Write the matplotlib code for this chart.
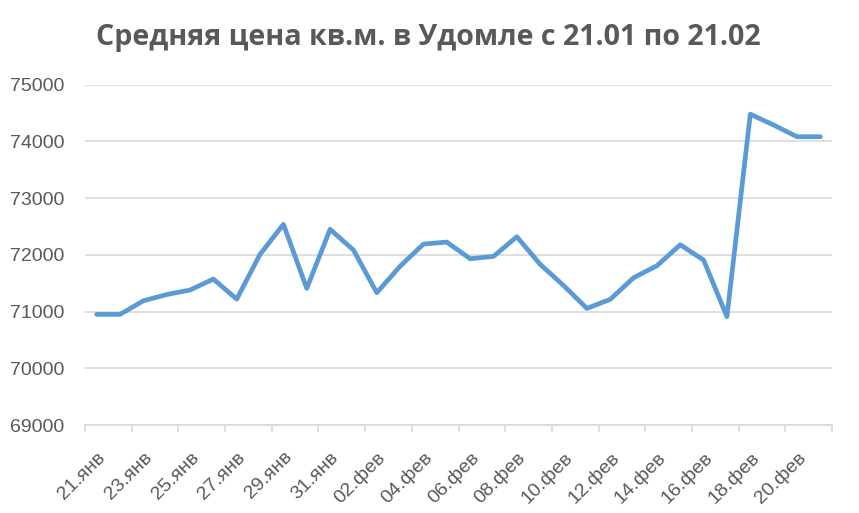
import matplotlib.pyplot as plt
import numpy as np

# average price per sq.m. in Udomlya, 21.01 - 21.02
days = ['21.янв', '22.янв', '23.янв', '24.янв', '25.янв', '26.янв', '27.янв', '28.янв',
        '29.янв', '30.янв', '31.янв', '01.фев', '02.фев', '03.фев', '04.фев', '05.фев',
        '06.фев', '07.фев', '08.фев', '09.фев', '10.фев', '11.фев', '12.фев', '13.фев',
        '14.фев', '15.фев', '16.фев', '17.фев', '18.фев', '19.фев', '20.фев', '21.фев']
prices = [70950, 70950, 71190, 71300, 71380, 71573, 71220, 72010,
          72538, 71409, 72450, 72085, 71332, 71800, 72190, 72225,
          71931, 71973, 72319, 71832, 71460, 71056, 71215, 71596,
          71808, 72178, 71908, 70910, 74480, 74289, 74083, 74083]
yticks = [69000, 70000, 71000, 72000, 73000, 74000, 75000]

grey = '#595959'
fig = plt.figure(figsize=(8.59, 5.13), dpi=100)
ax = fig.add_axes([85 / 859, 1 - 425 / 513, (832 - 85) / 859, (425 - 84.7) / 513])

x = np.arange(len(days))
ax.plot(x, prices, color='#5B9BD5', lw=3.4, solid_capstyle='round', solid_joinstyle='round', zorder=3)

ax.set_xlim(-0.5, len(days) - 0.5)
ax.set_ylim(yticks[0], yticks[-1])
ax.set_yticks(yticks)
ax.set_yticklabels([str(v) for v in yticks], fontsize=14, color=grey, family='Liberation Sans')
ax.grid(axis='y', color='#D9D9D9', lw=1.2, zorder=0)

ax.set_xticks(x[::2])
ax.set_xticklabels(days[::2], rotation=45, ha='right', rotation_mode='anchor',
                   fontsize=14, color=grey, family='Liberation Sans')
ax.set_xticks(np.arange(-0.5, len(days), 2), minor=True)
ax.tick_params(axis='x', which='major', length=0, pad=17)
ax.tick_params(axis='x', which='minor', length=5, color='#D9D9D9', width=1.2)
ax.tick_params(axis='y', length=0, pad=15)

for s in ['top', 'right', 'left']:
    ax.spines[s].set_visible(False)
ax.spines['bottom'].set_color('#D9D9D9')
ax.spines['bottom'].set_linewidth(1.2)

fig.text(428 / 859, 1 - 37 / 513, 'Средняя цена кв.м. в Удомле с 21.01 по 21.02',
         ha='center', va='center', fontsize=20.6, fontweight='bold', color=grey, family='Open Sans')

fig.savefig('out.png', dpi=100)
